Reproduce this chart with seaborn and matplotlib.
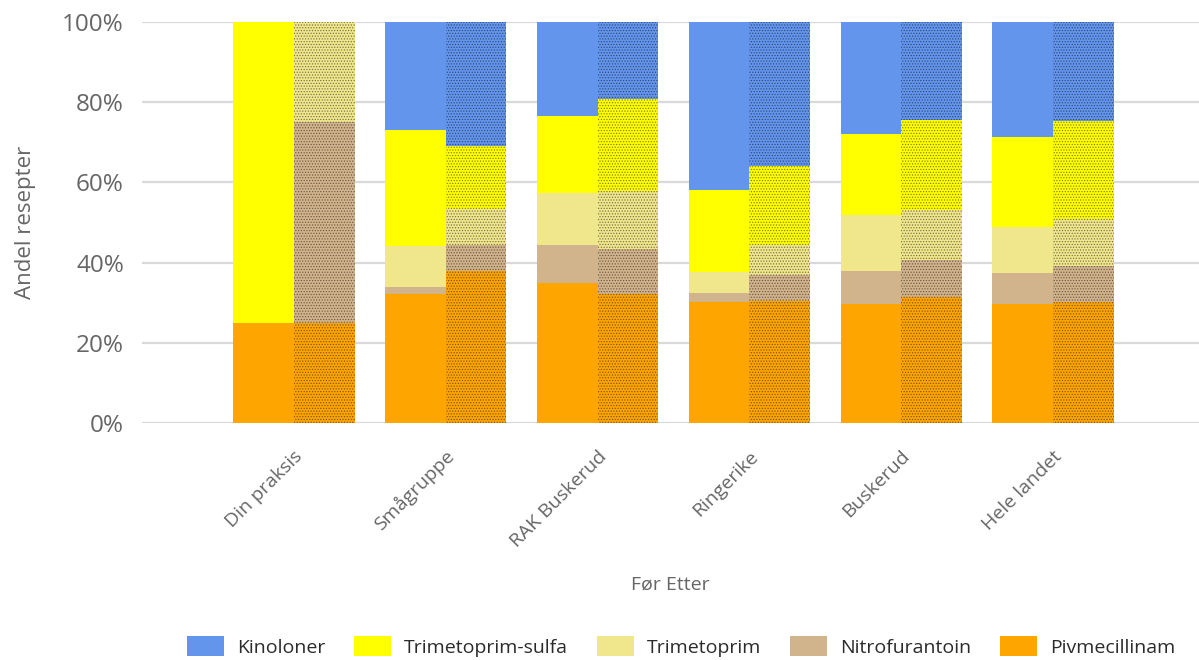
import matplotlib
matplotlib.use("Agg")
import matplotlib.pyplot as plt
import matplotlib.transforms as mtransforms
from matplotlib.patches import Patch
import numpy as np
import pandas as pd
import seaborn as sns

# Share of prescriptions (%) per antibiotic, before ("Før") and after ("Etter")
categories = ["Din praksis", "Smågruppe", "RAK Buskerud", "Ringerike", "Buskerud", "Hele landet"]
periods = ["Før", "Etter"]

pivmecillinam_for = [25.0, 32.3, 34.9, 30.3, 29.8, 29.6]
pivmecillinam_etter = [25.0, 37.9, 32.3, 30.4, 31.4, 30.3]
nitrofurantoin_for = [0.0, 1.7, 9.6, 2.2, 8.1, 7.9]
nitrofurantoin_etter = [50.0, 6.5, 11.0, 6.4, 9.3, 8.8]
trimetoprim_for = [0.0, 10.2, 12.9, 5.2, 13.9, 11.4]
trimetoprim_etter = [25.0, 9.0, 14.6, 7.7, 12.3, 11.7]
trim_sulfa_for = [75.0, 28.9, 19.1, 20.5, 20.2, 22.4]
trim_sulfa_etter = [0.0, 15.6, 22.9, 19.6, 22.6, 24.5]
kinoloner_for = [0.0, 26.9, 23.5, 41.8, 28.0, 28.7]
kinoloner_etter = [0.0, 31.0, 19.2, 35.9, 24.4, 24.7]

# stacking order, bottom to top
drugs = ["Pivmecillinam", "Nitrofurantoin", "Trimetoprim", "Trimetoprim-sulfa", "Kinoloner"]
series = {
    "Pivmecillinam": (pivmecillinam_for, pivmecillinam_etter),
    "Nitrofurantoin": (nitrofurantoin_for, nitrofurantoin_etter),
    "Trimetoprim": (trimetoprim_for, trimetoprim_etter),
    "Trimetoprim-sulfa": (trim_sulfa_for, trim_sulfa_etter),
    "Kinoloner": (kinoloner_for, kinoloner_etter),
}
colors = {
    "Kinoloner": "#6495ED",
    "Trimetoprim-sulfa": "#FFFF00",
    "Trimetoprim": "#F0E68C",
    "Nitrofurantoin": "#D2B48C",
    "Pivmecillinam": "#FFA500",
}
legend_order = ["Kinoloner", "Trimetoprim-sulfa", "Trimetoprim", "Nitrofurantoin", "Pivmecillinam"]

rows = []
for drug in drugs:
    for p, vals in zip(periods, series[drug]):
        for cat, v in zip(categories, vals):
            rows.append({"category": cat, "period": p, "drug": drug, "share": v})
df = pd.DataFrame(rows)
df["drug"] = pd.Categorical(df["drug"], categories=drugs, ordered=True)
df = df.sort_values(["category", "period", "drug"])
df["cum"] = df.groupby(["category", "period"], observed=True)["share"].cumsum()

sns.set_theme(style="white")
plt.rcParams["font.family"] = ["Open Sans", "DejaVu Sans"]
plt.rcParams["hatch.color"] = (0, 0, 0, 0.45)
plt.rcParams["hatch.linewidth"] = 0.6

text_color = "#666666"
fig = plt.figure(figsize=(11.99, 6.60), dpi=100)
ax = fig.add_axes([0.1184, 0.359, 0.8816, 0.6077])

# draw cumulative totals from the top layer down so each layer covers the next
for drug in reversed(drugs):
    sub = df[df["drug"] == drug]
    c = colors[drug]
    sns.barplot(data=sub, x="category", y="cum", hue="period",
                order=categories, hue_order=periods,
                palette=[c, c], saturation=1, width=0.8, gap=0,
                errorbar=None, legend=False, linewidth=0, ax=ax)
    for bar in ax.containers[-1]:
        bar.set_hatch("......")
        bar.set_edgecolor((0, 0, 0, 0.45))
        bar.set_linewidth(0)

ax.set_xlim(-1.0, 5.96)
ax.set_ylim(0, 100)
ax.set_yticks([0, 20, 40, 60, 80, 100])
ax.set_yticklabels([f"{v}%" for v in [0, 20, 40, 60, 80, 100]])
ax.yaxis.grid(True, color="#d9d9d9", linewidth=1.6)
ax.set_axisbelow(True)
for s in ax.spines.values():
    s.set_visible(False)
ax.tick_params(axis="both", length=0, colors=text_color)
ax.tick_params(axis="y", labelsize=17.5, pad=13)
ax.tick_params(axis="x", labelsize=14, pad=22)

offset = mtransforms.ScaledTranslation(6 / 100, 0, fig.dpi_scale_trans)
for lbl in ax.get_xticklabels():
    lbl.set_rotation(45)
    lbl.set_ha("right")
    lbl.set_va("center")
    lbl.set_rotation_mode("anchor")
    lbl.set_transform(lbl.get_transform() + offset)

ax.set_xlabel("Før Etter", fontsize=14, color=text_color, labelpad=18)
ax.set_ylabel("Andel resepter", fontsize=16, color=text_color, labelpad=19)

handles = [Patch(facecolor=colors[d], edgecolor="none", label=d) for d in legend_order]
fig.legend(handles=handles, loc="lower center", bbox_to_anchor=(0.568, -0.022),
           ncol=5, frameon=False, fontsize=14, labelcolor="#2b2b2b",
           handlelength=1.9, handleheight=1.2, handletextpad=0.65,
           columnspacing=1.5)

fig.savefig("out.png", dpi=100)
